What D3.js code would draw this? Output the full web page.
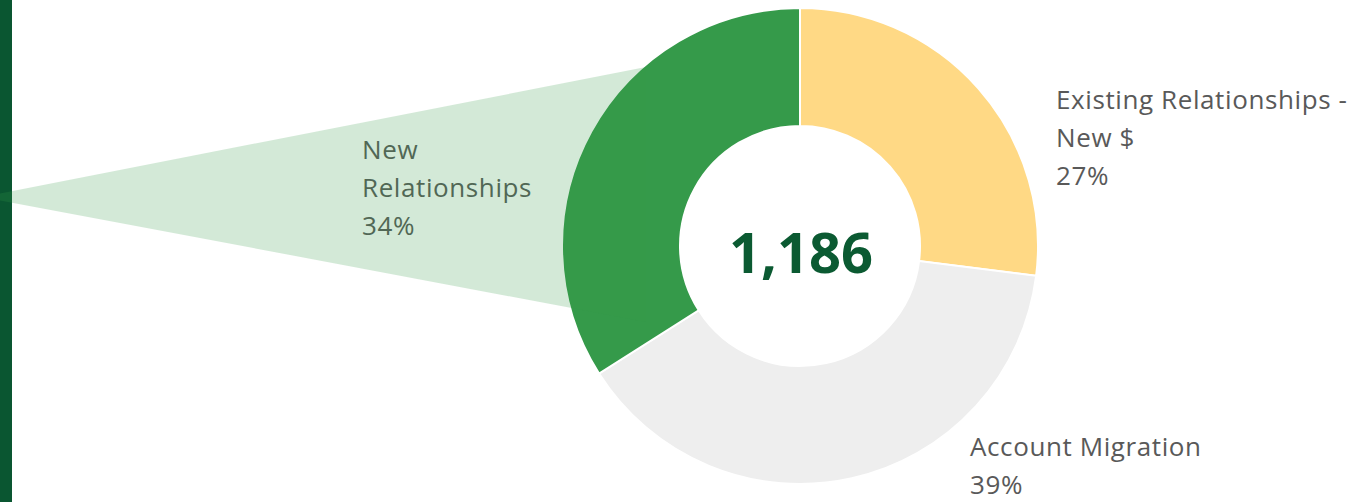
<!DOCTYPE html>
<html>
<head>
<meta charset="utf-8">
<script src="https://cdn.jsdelivr.net/npm/d3@7"></script>
<style>
  html, body { margin: 0; padding: 0; background: #fff; }
  svg { display: block; }
  text { font-family: "Open Sans", "Noto Sans", sans-serif; }
</style>
</head>
<body>
<svg id="chart" width="1365" height="502"></svg>
<script>
// ---- data ----
const categories = ["Existing Relationships - New $", "Account Migration", "New Relationships"];
const labelLines = [["Existing Relationships -", "New $"], ["Account Migration"], ["New", "Relationships"]];
const shares = [27, 39, 34];
const colors = ["#ffd985", "#eeeeee", "#359a4a"];
const totalLabel = "1,186";

// ---- layout ----
const W = 1365, H = 502;
const cx = 800, cy = 246, R = 238, r = 120;
const svg = d3.select("#chart");

// left dark bar
svg.append("rect").attr("x", 0).attr("y", 0).attr("width", 12).attr("height", H).attr("fill", "#0a5631");

const pie = d3.pie().sort(null).value(d => d)(shares);
const arc = d3.arc().innerRadius(r).outerRadius(R);

const g = svg.append("g").attr("transform", `translate(${cx},${cy})`);
g.selectAll("path").data(pie).join("path")
  .attr("d", arc)
  .attr("fill", (d, i) => colors[i])
  .attr("stroke", "#fff")
  .attr("stroke-width", 2);

// center total
g.append("text")
  .attr("x", 1).attr("y", 27)
  .attr("text-anchor", "middle")
  .attr("font-size", 56)
  .attr("font-weight", 700)
  .attr("fill", "#0b5a32")
  .text(totalLabel);

// labels
const labelPos = [
  { x: 1056, y: 109 },
  { x: 970, y: 456 },
  { x: 362, y: 159 }
];
const lh = 38;
pie.forEach((d, i) => {
  const lines = labelLines[i].concat([shares[i] + "%"]);
  const t = svg.append("text")
    .attr("font-size", 26)
    .attr("letter-spacing", 0.6)
    .attr("fill", "#595959");
  lines.forEach((ln, j) => {
    t.append("tspan").attr("x", labelPos[i].x).attr("y", labelPos[i].y + j * lh).text(ln);
  });
});

// callout triangle overlay (highlighting New Relationships)
svg.append("path")
  .attr("d", d3.line()([[-18, 197], [646, 67], [646, 322]]) + "Z")
  .attr("fill", "#359a4a")
  .attr("fill-opacity", 0.22);
</script>
</body>
</html>
